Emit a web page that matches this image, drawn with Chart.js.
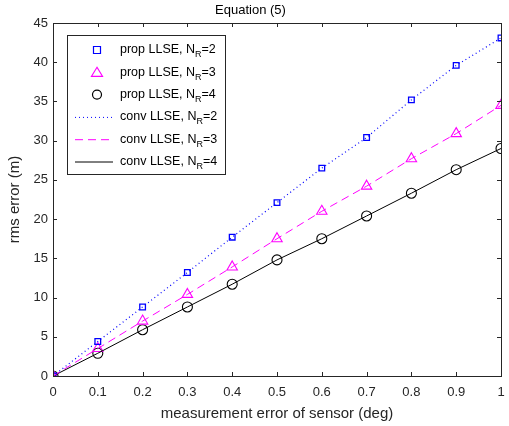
<!DOCTYPE html>
<html>
<head>
<meta charset="utf-8">
<script src="https://cdn.jsdelivr.net/npm/chart.js@4/dist/chart.umd.min.js"></script>
<style>
  html, body { margin: 0; padding: 0; background: #fff; }
  #wrap { width: 509px; height: 426px; }
</style>
</head>
<body>
<div id="wrap"><canvas id="c"></canvas></div>
<script>
// data
const xValues = [0, 0.1, 0.2, 0.3, 0.4, 0.5, 0.6, 0.7, 0.8, 0.9, 1];
const propNR2 = [0, 4.4, 8.8, 13.2, 17.7, 22.1, 26.5, 30.4, 35.2, 39.6, 43.1];
const propNR3 = [0, 3.5, 7.0, 10.4, 13.9, 17.5, 21.0, 24.2, 27.7, 30.9, 34.5];
const propNR4 = [0, 2.9, 5.9, 8.8, 11.7, 14.8, 17.5, 20.4, 23.3, 26.3, 29.0];
const convNR2 = [0, 4.4, 8.8, 13.2, 17.7, 22.1, 26.5, 30.4, 35.2, 39.6, 43.1];
const convNR3 = [0, 3.5, 7.0, 10.4, 13.9, 17.5, 21.0, 24.2, 27.7, 30.9, 34.5];
const convNR4 = [0, 2.9, 5.9, 8.8, 11.7, 14.8, 17.5, 20.4, 23.3, 26.3, 29.0];
const xTicks = [0, 0.1, 0.2, 0.3, 0.4, 0.5, 0.6, 0.7, 0.8, 0.9, 1];
const yTicks = [0, 5, 10, 15, 20, 25, 30, 35, 40, 45];

const FONT = "'Liberation Sans', Arial, sans-serif";
const BLUE = "#0000ff";
const MAGENTA = "#ff00ff";
const BLACK = "#000000";

function pts(ys) {
  return xValues.map((x, i) => ({ x: x, y: ys[i] }));
}

const legendItems = [
  { name: "prop LLSE, N", sub: "R", tail: "=2", marker: "rect", color: BLUE },
  { name: "prop LLSE, N", sub: "R", tail: "=3", marker: "triangle", color: MAGENTA },
  { name: "prop LLSE, N", sub: "R", tail: "=4", marker: "circle", color: BLACK },
  { name: "conv LLSE, N", sub: "R", tail: "=2", dash: [1, 3], color: BLUE },
  { name: "conv LLSE, N", sub: "R", tail: "=3", dash: [8, 5], color: MAGENTA },
  { name: "conv LLSE, N", sub: "R", tail: "=4", dash: [], color: BLACK }
];

// box, inward ticks and legend in matlab style
const matlabBox = {
  id: "matlabBox",
  afterDraw(chart) {
    const ctx = chart.ctx;
    const a = chart.chartArea;
    const xs = chart.scales.x, ys = chart.scales.y;
    ctx.save();
    ctx.strokeStyle = "#262626";
    ctx.lineWidth = 1;
    ctx.strokeRect(a.left + 0.5, a.top + 0.5, a.right - a.left, a.bottom - a.top);
    ctx.beginPath();
    xTicks.forEach(v => {
      const p = Math.round(xs.getPixelForValue(v)) + 0.5;
      ctx.moveTo(p, a.bottom); ctx.lineTo(p, a.bottom - 4);
      ctx.moveTo(p, a.top); ctx.lineTo(p, a.top + 4);
    });
    yTicks.forEach(v => {
      const p = Math.round(ys.getPixelForValue(v)) + 0.5;
      ctx.moveTo(a.left, p); ctx.lineTo(a.left + 4, p);
      ctx.moveTo(a.right, p); ctx.lineTo(a.right - 4, p);
    });
    ctx.stroke();

    // legend
    const bx = 67.5, by = 35.5, bw = 158, bh = 139;
    ctx.fillStyle = "#fff";
    ctx.fillRect(bx, by, bw, bh);
    ctx.strokeStyle = "#262626";
    ctx.strokeRect(bx, by, bw, bh);
    legendItems.forEach((it, i) => {
      const y = 50 + i * 22.3;
      ctx.strokeStyle = it.color;
      ctx.lineWidth = 1.2;
      if (it.marker) {
        ctx.beginPath();
        if (it.marker === "rect") {
          ctx.rect(93.5, y - 3.5, 7, 7);
        } else if (it.marker === "triangle") {
          ctx.moveTo(97, y - 5); ctx.lineTo(102.5, y + 4); ctx.lineTo(91.5, y + 4); ctx.closePath();
        } else {
          ctx.arc(97, y, 4.5, 0, Math.PI * 2);
        }
        ctx.stroke();
      } else {
        ctx.lineWidth = 1;
        ctx.setLineDash(it.dash);
        ctx.beginPath();
        ctx.moveTo(75, y + 0.5); ctx.lineTo(113, y + 0.5);
        ctx.stroke();
        ctx.setLineDash([]);
      }
      ctx.fillStyle = "#000";
      ctx.textBaseline = "middle";
      ctx.font = "12.5px " + FONT;
      let tx = 120;
      ctx.fillText(it.name, tx, y);
      tx += ctx.measureText(it.name).width;
      ctx.font = "9px " + FONT;
      ctx.fillText(it.sub, tx, y + 5);
      tx += ctx.measureText(it.sub).width;
      ctx.font = "12.5px " + FONT;
      ctx.fillText(it.tail, tx, y);
    });
    ctx.restore();
  }
};

new Chart(document.getElementById("c"), {
  type: "scatter",
  data: {
    datasets: [
      { data: pts(convNR2), showLine: true, borderColor: BLUE, borderWidth: 1.2, borderDash: [1, 3], pointRadius: 0 },
      { data: pts(convNR3), showLine: true, borderColor: MAGENTA, borderWidth: 1, borderDash: [8, 5], pointRadius: 0 },
      { data: pts(convNR4), showLine: true, borderColor: BLACK, borderWidth: 1, pointRadius: 0 },
      { data: pts(propNR2), pointStyle: "rect", pointRadius: 4, borderColor: BLUE, backgroundColor: "transparent", borderWidth: 1.3 },
      { data: pts(propNR3), pointStyle: "triangle", pointRadius: 6, borderColor: MAGENTA, backgroundColor: "transparent", borderWidth: 1.1 },
      { data: pts(propNR4), pointStyle: "circle", pointRadius: 5, borderColor: BLACK, backgroundColor: "transparent", borderWidth: 1.1 }
    ]
  },
  options: {
    responsive: true,
    maintainAspectRatio: false,
    animation: false,
    layout: { padding: { left: 0, right: 8, top: 0, bottom: 0 } },
    plugins: {
      legend: { display: false },
      tooltip: { enabled: false },
      title: {
        display: true,
        text: "Equation (5)",
        color: "#000",
        font: { family: FONT, size: 13, weight: "normal" },
        padding: { top: 3, bottom: 4.4 }
      }
    },
    scales: {
      x: {
        type: "linear",
        min: 0, max: 1,
        afterBuildTicks: s => { s.ticks = xTicks.map(v => ({ value: v })); },
        afterFit: s => { s.height = 50; s.paddingLeft = 0; s.paddingRight = 0; },
        grid: { display: false, drawTicks: false },
        border: { display: false },
        ticks: { color: "#262626", font: { family: FONT, size: 13 }, padding: 9, maxRotation: 0,
                 callback: v => String(v) },
        title: { display: true, text: "measurement error of sensor (deg)", color: "#262626",
                 font: { family: FONT, size: 15 }, padding: { top: 0, bottom: 3 } }
      },
      y: {
        min: 0, max: 45,
        afterBuildTicks: s => { s.ticks = yTicks.map(v => ({ value: v })); },
        afterFit: s => { s.width = 53; s.paddingTop = 0; s.paddingBottom = 0; },
        grid: { display: false, drawTicks: false },
        border: { display: false },
        ticks: { color: "#262626", font: { family: FONT, size: 13 }, padding: 5 },
        title: { display: true, text: "rms error (m)", color: "#262626",
                 font: { family: FONT, size: 15 }, padding: { top: 6, bottom: 0 } }
      }
    }
  },
  plugins: [matlabBox]
});
</script>
</body>
</html>
